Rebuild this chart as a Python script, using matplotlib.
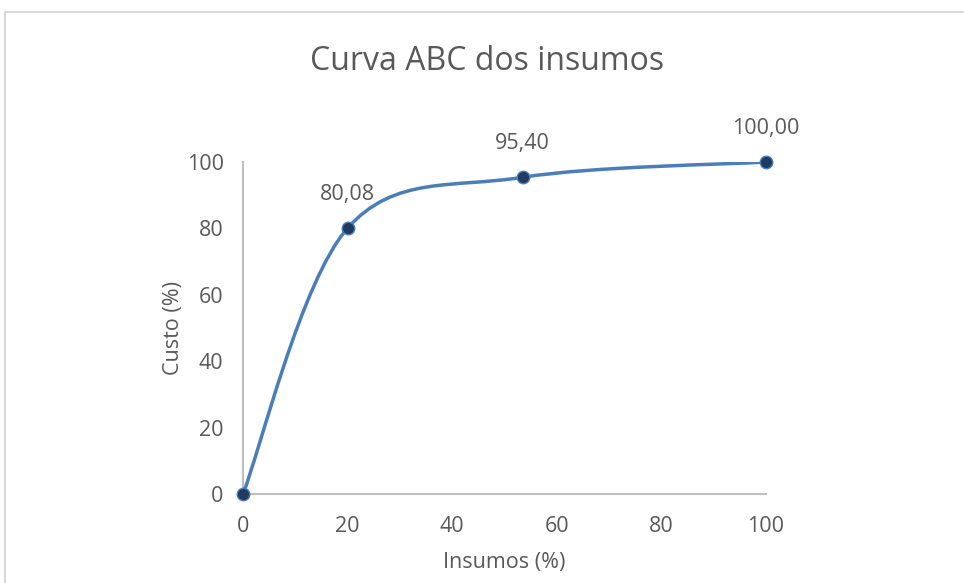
import numpy as np
import matplotlib
matplotlib.use('Agg')
from matplotlib import pyplot as plt
from matplotlib.path import Path
from matplotlib.patches import PathPatch, Rectangle

insumos = [0, 20, 53.5, 100]
custo = [0, 80.08, 95.40, 100.00]
rotulos = ['', '80,08', '95,40', '100,00']
xticks = [0, 20, 40, 60, 80, 100]
yticks = [0, 20, 40, 60, 80, 100]

plt.rcParams['font.family'] = ['Open Sans', 'DejaVu Sans']
cinza = '#595959'
azul = '#4a7ebb'


def smoothPath(xs, ys):
  # excel-like smoothing: cubic bezier with catmull-rom control points
  pts = np.column_stack([xs, ys]).astype(float)
  n = len(pts)
  verts = [pts[0]]
  codes = [Path.MOVETO]
  for i in range(n - 1):
    p0 = pts[max(i - 1, 0)]
    p1 = pts[i]
    p2 = pts[i + 1]
    p3 = pts[min(i + 2, n - 1)]
    c1 = p1 + (p2 - p0) / 6.
    c2 = p2 - (p3 - p1) / 6.
    verts += [c1, c2, p2]
    codes += [Path.CURVE4] * 3
  return Path(verts, codes)


fg = plt.figure(figsize=(9.64, 5.83), dpi=100)
fg.patches.append(Rectangle((5/964., -0.1), 1.2, 1 - 12/583. + 0.1, transform=fg.transFigure,
                            fill=False, edgecolor='#d9d9d9', linewidth=1.5))
ax = fg.add_axes([243/964., 89/583., 523/964., 332/583.])

ax.add_patch(PathPatch(smoothPath(insumos, custo), facecolor='none', edgecolor=azul, linewidth=2.5, zorder=3))
ax.plot(insumos, custo, linestyle='none', marker='o', markersize=9, markerfacecolor='#203a60',
        markeredgecolor=azul, markeredgewidth=1, zorder=4, clip_on=False)
for x, y, t in zip(insumos, custo, rotulos):
  if t:
    ax.annotate(t, (x, y), xytext=(0, 24), textcoords='offset points', ha='center', va='center',
                fontsize=15.5, color=cinza)

ax.set_xlim(0, 100)
ax.set_ylim(0, 100)
ax.set_xticks(xticks)
ax.set_yticks(yticks)
ax.tick_params(length=0, labelsize=15.5, labelcolor=cinza)
ax.tick_params(axis='x', pad=16)
ax.tick_params(axis='y', pad=14)
for s in ['top', 'right']:
  ax.spines[s].set_visible(False)
for s in ['left', 'bottom']:
  ax.spines[s].set_color('#bfbfbf')
  ax.spines[s].set_linewidth(1.5)
ax.set_xlabel('Insumos (%)', fontsize=15.5, color=cinza)
ax.set_ylabel('Custo (%)', fontsize=15.5, color=cinza)
ax.xaxis.set_label_coords(0.5, -(552 - 494) / 332., transform=ax.transAxes)
ax.yaxis.set_label_coords(-(243 - 184) / 523., 0.5, transform=ax.transAxes)
fg.text(487/964., 1 - 62/583., 'Curva ABC dos insumos', ha='center', va='center', fontsize=23, color=cinza)

fg.savefig('out.png', dpi=100)
